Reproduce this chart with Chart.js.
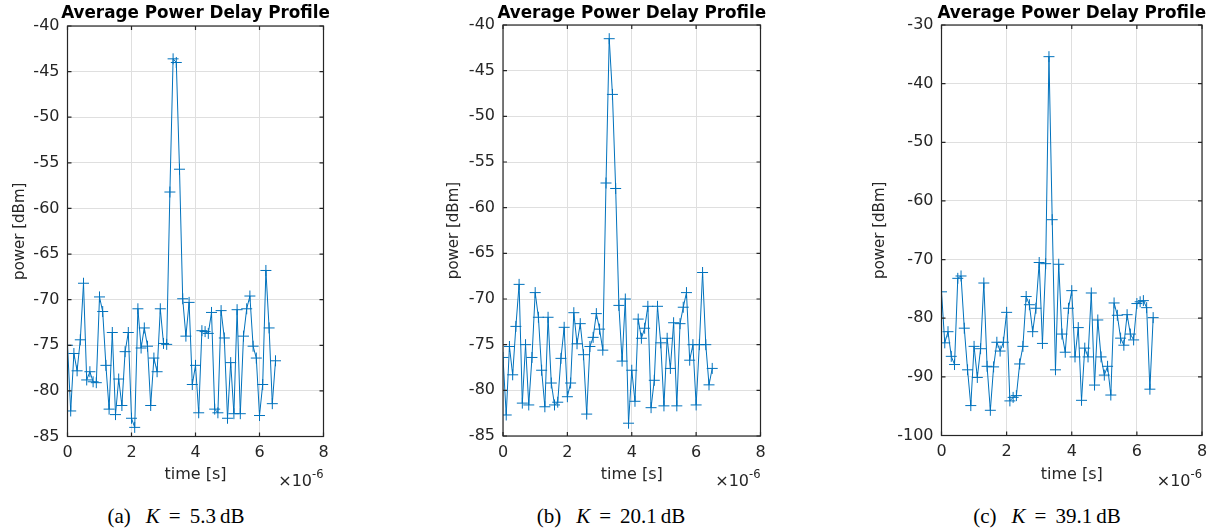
<!DOCTYPE html>
<html lang="en">
<head>
  <meta charset="UTF-8" />
  <title>Average Power Delay Profile</title>
  <script src="https://cdn.jsdelivr.net/npm/chart.js"></script>
  <style>
    body {
      margin: 0;
      background: #fff;
      width: 1220px;
      height: 531px;
      position: relative;
      overflow: hidden;
    }
    canvas {
      position: absolute;
      top: 0;
    }
    .caption {
      position: absolute;
      top: 503px;
      font-family: "Liberation Serif", "DejaVu Serif", serif;
      font-size: 21px;
      color: #000;
      transform: translateX(-50%);
      white-space: nowrap;
      line-height: 26px;
    }
    .caption .k { margin-left: 15px; }
    .caption .eq { margin: 0 9px; }
    .caption .u { margin-left: 4px; }
  </style>
</head>
<body>
  <canvas id="chartA" width="420" height="500" style="left:0px"></canvas>
  <canvas id="chartB" width="420" height="500" style="left:434px"></canvas>
  <canvas id="chartC" width="360" height="500" style="left:860px"></canvas>
  <div class="caption" style="left:176px">(a)<i class="k">K</i><span class="eq">=</span>5.3<span class="u">dB</span></div>
  <div class="caption" style="left:611px">(b)<i class="k">K</i><span class="eq">=</span>20.1<span class="u">dB</span></div>
  <div class="caption" style="left:1047px">(c)<i class="k">K</i><span class="eq">=</span>39.1<span class="u">dB</span></div>

  <script>
    // delay axis in microseconds (axis shows x10^-6 s)
    const delayUs = [
      0.0, 0.1, 0.2, 0.3, 0.4, 0.5, 0.6, 0.7, 0.8, 0.9,
      1.0, 1.1, 1.2, 1.3, 1.4, 1.5, 1.6, 1.7, 1.8, 1.9,
      2.0, 2.1, 2.2, 2.3, 2.4, 2.5, 2.6, 2.7, 2.8, 2.9,
      3.0, 3.1, 3.2, 3.3, 3.4, 3.5, 3.6, 3.7, 3.8, 3.9,
      4.0, 4.1, 4.2, 4.3, 4.4, 4.5, 4.6, 4.7, 4.8, 4.9,
      5.0, 5.1, 5.2, 5.3, 5.4, 5.5, 5.6, 5.7, 5.8, 5.9,
      6.0, 6.1, 6.2, 6.3, 6.4, 6.5
    ];

    // (a) K = 5.3 dB
    const powerA = [
      -75.0, -82.2, -75.9, -77.8, -74.4, -68.2, -78.8, -77.9, -79.0, -79.1,
      -69.7, -71.3, -77.2, -82.0, -73.6, -82.6, -78.7, -81.6, -75.7, -73.6,
      -83.0, -84.0, -71.0, -75.3, -73.1, -75.1, -81.6, -76.4, -77.9, -71.0,
      -74.8, -74.9, -58.2, -43.6, -44.0, -55.7, -69.9, -74.0, -70.3, -79.3,
      -77.2, -82.4, -73.4, -73.5, -73.7, -71.4, -82.0, -82.4, -71.2, -74.2,
      -83.0, -76.9, -82.5, -71.1, -82.5, -74.0, -71.0, -69.6, -75.1, -76.4,
      -82.7, -79.3, -66.8, -73.1, -81.4, -76.7
    ];

    // (b) K = 20.1 dB
    const powerB = [
      -76.4, -82.7, -75.2, -78.3, -73.0, -68.4, -81.4, -75.0, -81.6, -76.4,
      -69.3, -72.0, -77.8, -81.8, -72.0, -79.2, -81.6, -81.3, -76.5, -73.1,
      -80.7, -79.2, -71.5, -74.9, -72.7, -76.1, -82.6, -75.2, -74.2, -71.6,
      -73.3, -75.6, -57.3, -41.5, -47.6, -57.9, -70.7, -76.8, -70.0, -83.6,
      -77.8, -81.2, -72.2, -74.3, -73.2, -70.8, -81.9, -78.9, -70.8, -74.8,
      -81.7, -74.3, -77.6, -72.6, -81.7, -72.7, -70.9, -69.3, -76.7, -75.0,
      -81.6, -75.0, -67.1, -75.0, -79.4, -77.6
    ];

    // (c) K = 39.1 dB
    const powerC = [
      -75.5, -84.2, -82.3, -86.5, -87.9, -73.2, -72.8, -81.7, -88.8, -94.9,
      -84.8, -90.1, -85.2, -74.0, -88.2, -95.7, -88.3, -84.1, -85.6, -84.1,
      -79.0, -94.1, -93.5, -93.2, -87.8, -84.8, -76.3, -77.7, -82.3, -78.3,
      -70.5, -84.3, -70.7, -35.4, -63.2, -88.8, -70.8, -82.7, -85.8, -78.3,
      -75.3, -86.6, -81.6, -94.0, -85.1, -86.6, -75.7, -91.4, -80.3, -86.6,
      -89.7, -88.2, -93.1, -77.4, -79.5, -83.4, -84.6, -79.4, -82.7, -83.7,
      -77.5, -77.2, -77.0, -78.2, -92.1, -79.9
    ];

    const xTicks = [0, 2, 4, 6, 8];
    const yTicksAB = [-85, -80, -75, -70, -65, -60, -55, -50, -45, -40];
    const yTicksC = [-100, -90, -80, -70, -60, -50, -40, -30];

    const BLUE = '#0072BD';
    const AXIS = '#262626';
    const GRID = '#dfdfdf';
    const FONT = '"DejaVu Sans", sans-serif';

    // box, inward ticks, title and the x10^-6 multiplier, MATLAB style
    const matlabFrame = {
      id: 'matlabFrame',
      afterDraw(chart, args, opts) {
        const { ctx, chartArea: a, scales: { x, y } } = chart;
        ctx.save();
        ctx.strokeStyle = AXIS;
        ctx.lineWidth = 1.2;
        ctx.strokeRect(a.left, a.top, a.right - a.left, a.bottom - a.top);
        ctx.beginPath();
        x.ticks.forEach(t => {
          const px = x.getPixelForValue(t.value);
          ctx.moveTo(px, a.bottom); ctx.lineTo(px, a.bottom - 4);
          ctx.moveTo(px, a.top); ctx.lineTo(px, a.top + 4);
        });
        y.ticks.forEach(t => {
          const py = y.getPixelForValue(t.value);
          ctx.moveTo(a.left, py); ctx.lineTo(a.left + 4, py);
          ctx.moveTo(a.right, py); ctx.lineTo(a.right - 4, py);
        });
        ctx.stroke();

        ctx.fillStyle = '#000';
        ctx.font = 'bold 16.8px ' + FONT;
        ctx.textAlign = 'center';
        ctx.textBaseline = 'middle';
        ctx.fillText(opts.title, (a.left + a.right) / 2, 14);

        ctx.fillStyle = AXIS;
        ctx.textAlign = 'right';
        ctx.textBaseline = 'alphabetic';
        ctx.font = '11.5px ' + FONT;
        ctx.fillText('-6', a.right, 478);
        const supW = ctx.measureText('-6').width;
        ctx.font = '16px ' + FONT;
        ctx.fillText('\u00d710', a.right - supW, 486);
        ctx.restore();
      }
    };

    function makeChart(id, canvasLeft, canvasW, plot, power, yTicks) {
      const H = 500;
      const tickFont = { family: FONT, size: 16 };
      return new Chart(document.getElementById(id), {
        type: 'line',
        data: {
          datasets: [{
            data: delayUs.map((t, i) => ({ x: t, y: power[i] })),
            borderColor: BLUE,
            borderWidth: 1,
            pointStyle: 'cross',
            pointRadius: 5.5,
            pointBorderColor: BLUE,
            pointBorderWidth: 1,
            tension: 0,
            fill: false
          }]
        },
        options: {
          responsive: false,
          animation: false,
          layout: {
            padding: { left: 0, top: plot.top, right: canvasW - (plot.right - canvasLeft), bottom: 0 }
          },
          plugins: {
            legend: { display: false },
            tooltip: { enabled: false },
            matlabFrame: { title: 'Average Power Delay Profile' }
          },
          scales: {
            x: {
              type: 'linear',
              min: xTicks[0],
              max: xTicks[xTicks.length - 1],
              afterBuildTicks: s => { s.ticks = xTicks.map(v => ({ value: v })); },
              afterFit: s => { s.height = H - plot.bottom; },
              grid: { color: GRID, drawTicks: false },
              border: { display: false },
              ticks: { color: AXIS, font: tickFont, padding: 7, maxRotation: 0, autoSkip: false },
              title: {
                display: true, text: 'time [s]', color: AXIS,
                font: { family: FONT, size: 16 },
                padding: { top: 0, bottom: H - 475 - 9.6 }
              }
            },
            y: {
              type: 'linear',
              min: yTicks[0],
              max: yTicks[yTicks.length - 1],
              afterBuildTicks: s => { s.ticks = yTicks.map(v => ({ value: v })); },
              afterFit: s => { s.width = plot.left - canvasLeft; },
              grid: { color: GRID, drawTicks: false },
              border: { display: false },
              ticks: { color: AXIS, font: tickFont, padding: 8, autoSkip: false },
              title: {
                display: true, text: 'power [dBm]', color: AXIS,
                font: { family: FONT, size: 15 },
                padding: { top: 20 - 9, bottom: 0 }
              }
            }
          }
        },
        plugins: [matlabFrame]
      });
    }

    makeChart('chartA', 0, 420, { left: 67.5, right: 323.5, top: 26, bottom: 436.5 }, powerA, yTicksAB);
    makeChart('chartB', 434, 420, { left: 503, right: 760.5, top: 25, bottom: 436 }, powerB, yTicksAB);
    makeChart('chartC', 860, 360, { left: 941.5, right: 1202, top: 25, bottom: 435.5 }, powerC, yTicksC);
  </script>
</body>
</html>
